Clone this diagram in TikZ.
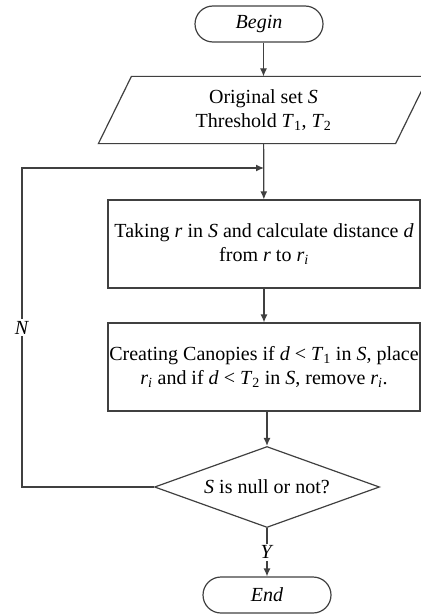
\documentclass[tikz,border=0pt]{standalone}
\usepackage{fontspec}
\setmainfont{Liberation Serif}
\usetikzlibrary{arrows.meta,shapes}
\definecolor{linegray}{HTML}{404040}
\tikzset{
  every node/.style={
    %draw=black,fill=white,
    font=\fontsize{20}{24}\selectfont, align=center,
  },
}

\begin{document}
\begin{tikzpicture}[x=1pt, y=-1pt, line width=1.2pt, draw=linegray, >={Latex[length=8pt,width=7pt]},
  terminal/.style={draw, rounded rectangle, minimum width=128pt, minimum height=36pt, inner sep=0pt},
  inout/.style={rectangle, minimum width=296pt, minimum height=66pt, inner sep=0pt},
  process/.style={draw, rectangle, minimum width=312pt, minimum height=88pt, inner sep=0pt},
  decision/.style={draw, diamond, aspect=2.78, minimum width=225pt, minimum height=81pt, inner sep=0pt},
  label/.style={fill=white, inner sep=2pt}]
\useasboundingbox (0,0) rectangle (420,615);
\node [terminal] (begin) at (259,24) {\textit{Begin}};
\node [inout] (input) at (263.5,110) {Original set \textit{S}\\ Threshold \textit{T}\textsubscript{1}, \textit{T}\textsubscript{2}};
\node [process] (take) at (264,244) {Taking \textit{r} in \textit{S} and calculate distance \textit{d}\\ from \textit{r} to \textit{r}\textsubscript{\textit{i}}};
\node [process] (create) at (264,367) {Creating Canopies if \textit{d} < \textit{T}\textsubscript{1} in \textit{S}, place\\ \textit{r}\textsubscript{\textit{i}} and if \textit{d} < \textit{T}\textsubscript{2} in \textit{S}, remove \textit{r}\textsubscript{\textit{i}}.};
\node [decision] (test) at (267,487) {\textit{S} is null or not?};
\node [terminal] (end) at (267,595) {\textit{End}};
\coordinate (loop) at (22,168);

% parallelogram round the input node
\draw ([xshift=-16.5pt]input.south west) -- ([xshift=-16.5pt]input.south east)
  -- ([xshift=16.5pt]input.north east) -- ([xshift=16.5pt]input.north west) -- cycle;

\draw [->] (begin.south -| input) -- (input);
\draw [->] (input) -- (take);
\draw [->] (take) -- (create);
\draw [->] (create.south -| test) -- (test);
\draw [->] (test) -- node [label] {\textit{Y}} (end);
\draw [->] (test.west) -| node [label, pos=0.75] {\textit{N}} (loop) -- (loop -| take);
\end{tikzpicture}
\end{document}
